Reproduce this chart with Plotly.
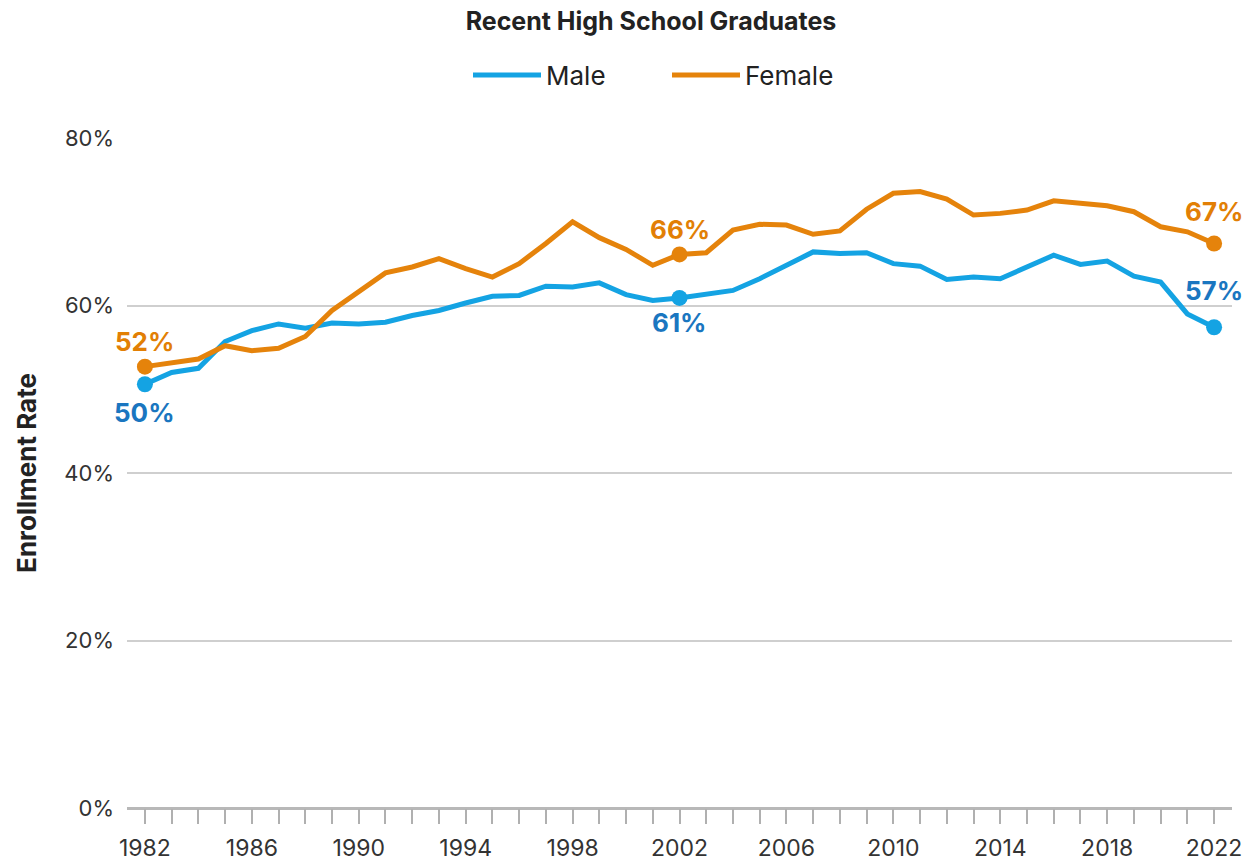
import plotly.graph_objects as go

years = list(range(1982, 2023))
male = [50.6, 52.0, 52.5, 55.7, 57.0, 57.8, 57.3, 57.9, 57.8, 58.0, 58.8, 59.4,
        60.3, 61.1, 61.2, 62.3, 62.2, 62.7, 61.3, 60.6, 60.9, 61.3, 61.8, 63.2,
        64.8, 66.4, 66.2, 66.3, 65.0, 64.7, 63.1, 63.4, 63.2, 64.6, 66.0, 64.9,
        65.3, 63.5, 62.8, 59.0, 57.4]
female = [52.7, 53.2, 53.6, 55.2, 54.6, 54.9, 56.3, 59.4, 61.6, 63.9, 64.6, 65.6,
          64.4, 63.4, 65.0, 67.4, 70.0, 68.1, 66.7, 64.8, 66.1, 66.3, 69.0, 69.7,
          69.6, 68.5, 68.9, 71.5, 73.4, 73.6, 72.7, 70.8, 71.0, 71.4, 72.5, 72.2,
          71.9, 71.2, 69.4, 68.8, 67.4]
highlight_years = [1982, 2002, 2022]
male_labels = ["50%", "61%", "57%"]
female_labels = ["52%", "66%", "67%"]
male_label_shift = [-28, -25, 37]
female_label_shift = [25, 25, 32]

BLUE = "#14A3E3"
BLUE_TXT = "#1A76C0"
ORANGE = "#E5830B"
ORANGE_TXT = "#E27F05"
FONT = "Inter, Roboto, Arial, sans-serif"

W, H = 1246, 861

fig = go.Figure()
fig.add_trace(go.Scatter(x=years, y=male, mode="lines", name="Male",
                         line=dict(color=BLUE, width=5)))
fig.add_trace(go.Scatter(x=years, y=female, mode="lines", name="Female",
                         line=dict(color=ORANGE, width=5)))

hm = [male[years.index(y)] for y in highlight_years]
hf = [female[years.index(y)] for y in highlight_years]
fig.add_trace(go.Scatter(x=highlight_years, y=hm, mode="markers", showlegend=False,
                         marker=dict(color=BLUE, size=16), hoverinfo="skip"))
fig.add_trace(go.Scatter(x=highlight_years, y=hf, mode="markers", showlegend=False,
                         marker=dict(color=ORANGE, size=16), hoverinfo="skip"))

for yr, v, t, s in zip(highlight_years, hm, male_labels, male_label_shift):
    fig.add_annotation(x=yr, y=v, text="<b>%s</b>" % t, showarrow=False, yshift=s,
                       font=dict(family=FONT, size=26, color=BLUE_TXT))
for yr, v, t, s in zip(highlight_years, hf, female_labels, female_label_shift):
    fig.add_annotation(x=yr, y=v, text="<b>%s</b>" % t, showarrow=False, yshift=s,
                       font=dict(family=FONT, size=26, color=ORANGE_TXT))

tickvals = years
ticktext = [str(y) if (y - 1982) % 4 == 0 else "" for y in years]

fig.update_layout(
    width=W, height=H,
    margin=dict(l=127, r=14, t=138, b=53),
    paper_bgcolor="white", plot_bgcolor="white",
    font=dict(family=FONT, color="#333333"),
    title=dict(text="<b>Recent High School Graduates</b>", x=651 / W, xanchor="center",
               xref="container", y=1 - 21 / H, yanchor="middle", yref="container",
               font=dict(family=FONT, size=25, color="#222222")),
    legend=dict(orientation="h", x=667 / W, xanchor="center", xref="container",
                y=1 - 75 / H, yanchor="middle", yref="container",
                font=dict(family=FONT, size=26, color="#222222"),
                itemwidth=68, entrywidth=116, traceorder="normal"),
    showlegend=True,
    xaxis=dict(range=[1981.33, 2022.67], tickvals=tickvals, ticktext=ticktext,
               ticks="outside", ticklen=15, tickwidth=1.5, tickcolor="#b0b0b0",
               ticklabelstandoff=4, automargin=False, ticklabeloverflow="allow",
               showgrid=False, zeroline=False, showline=False,
               tickfont=dict(family=FONT, size=23, color="#333333")),
    yaxis=dict(range=[0, 80], tickvals=[0, 20, 40, 60, 80],
               ticktext=["0%", "20%", "40%", "60%", "80%"],
               showgrid=True, gridcolor="#cfcfcf", gridwidth=1.5,
               zeroline=True, zerolinecolor="#b8b8b8", zerolinewidth=2.5,
               ticks="", ticklabelstandoff=12, automargin=False,
               tickfont=dict(family=FONT, size=22, color="#333333"),
               title=dict(text="<b>Enrollment Rate</b>", standoff=20,
                          font=dict(family=FONT, size=26, color="#222222"))),
)

# remove the browser's default 8px body margin so the figure fills the window exactly
fig.write_html("out.html",
               config={"displayModeBar": False},
               post_script="document.body.style.margin='0';"
                           "document.documentElement.style.overflow='hidden';")
